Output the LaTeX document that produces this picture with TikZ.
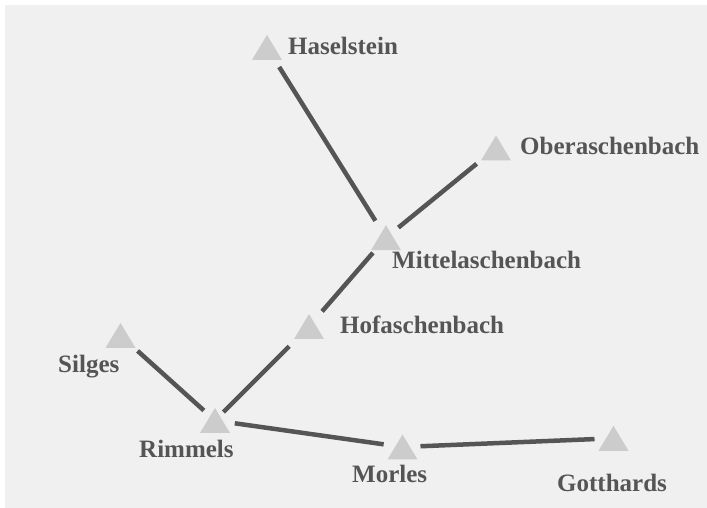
\documentclass[tikz,border=0pt]{standalone}
\usepackage{fontspec}
\setmainfont{Liberation Serif}
\definecolor{backgray}{HTML}{F0F0F0}
\definecolor{sitegray}{HTML}{CCCCCC}
\definecolor{inkgray}{HTML}{555555}
\begin{document}
\begin{tikzpicture}[x=1pt, y=1pt,
    site/.pic={\fill[sitegray] (-15,-12.5) -- (15,-12.5) -- (0,12.5) -- cycle;},
    road/.style={draw=inkgray, line width=4.5pt, shorten <=20pt, shorten >=20pt},
    place/.style={anchor=base west, inner sep=0pt, text=inkgray, font=\fontsize{25}{30}\selectfont\bfseries}]
                % Background
                \fill[white] (0,0) rectangle (707,508);
                \fill[backgray] (5,0) rectangle (707,503);
                % Sites
                \coordinate (haselstein) at (267, 460.5);
                \coordinate (oberaschenbach) at (496, 360);
                \coordinate (mittelaschenbach) at (386, 270.3);
                \coordinate (hofaschenbach) at (309, 181.5);
                \coordinate (silges) at (120.5, 172.5);
                \coordinate (rimmels) at (215, 87.5);
                \coordinate (morles) at (402.5, 61);
                \coordinate (gotthards) at (613.5, 69.7);
                % Roads
                \draw[road, shorten <=23pt] (haselstein) -- (mittelaschenbach);
                \draw[road, shorten <=16pt, shorten >=25pt] (mittelaschenbach) -- (oberaschenbach);
                \draw[road] (mittelaschenbach) -- (hofaschenbach);
                \draw[road, shorten <=28pt, shorten >=12pt] (hofaschenbach) -- (rimmels);
                \draw[road, shorten <=23pt, shorten >=15pt] (silges) -- (rimmels);
                \draw[road, shorten >=19pt] (rimmels) -- (morles);
                \draw[road, shorten <=18pt, shorten >=19pt] (morles) -- (gotthards);
                % Markers
                \pic at (haselstein) {site};
                \pic at (oberaschenbach) {site};
                \pic at (mittelaschenbach) {site};
                \pic at (hofaschenbach) {site};
                \pic at (silges) {site};
                \pic at (rimmels) {site};
                \pic at (morles) {site};
                \pic at (gotthards) {site};
                % Names
                \node[place] (haselstein label) at (288, 453) {Haselstein};
                \node[place] (oberaschenbach label) at (520, 353) {Oberaschenbach};
                \node[place] (mittelaschenbach label) at (392, 239) {Mittelaschenbach};
                \node[place] (hofaschenbach label) at (340, 174) {Hofaschenbach};
                \node[place] (silges label) at (58, 135.3) {Silges};
                \node[place] (rimmels label) at (139, 50) {Rimmels};
                \node[place] (morles label) at (352, 25) {Morles};
                \node[place] (gotthards label) at (557, 16) {Gotthards};
            \end{tikzpicture}
\end{document}
